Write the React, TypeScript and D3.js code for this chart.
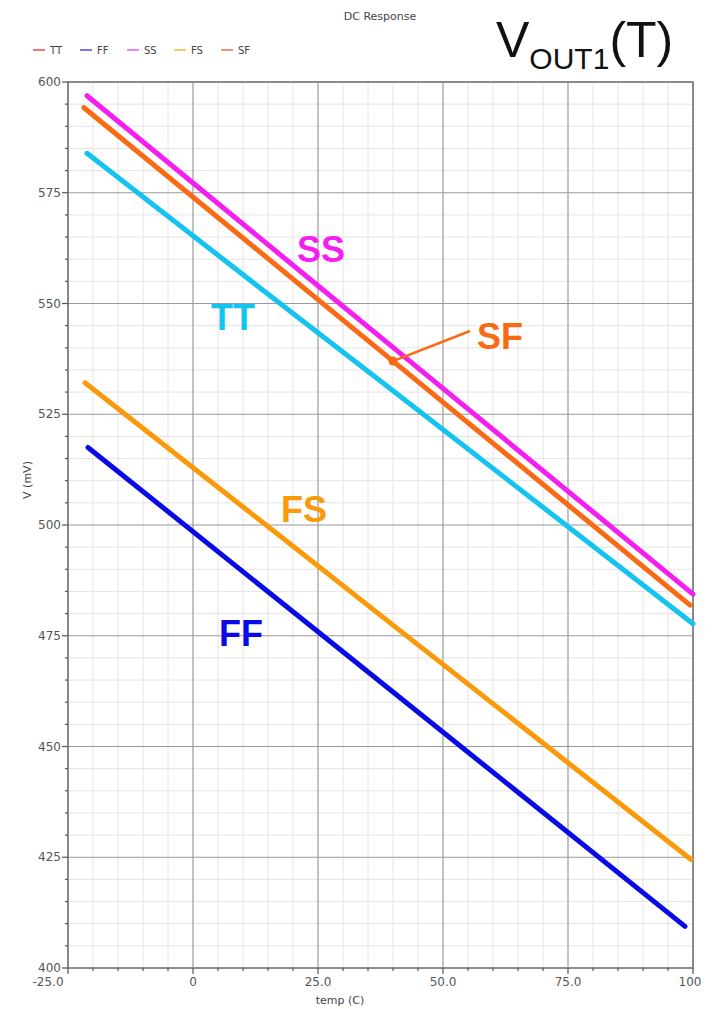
import * as d3 from "d3";

// [temp (C), V (mV)]
const ttPoints: [number, number][] = [[-21.2, 583.9], [14, 553.0], [40, 530.3], [100, 477.7]];
const ffPoints: [number, number][] = [[-21.0, 517.5], [24, 476.8], [40, 462.3], [98.4, 409.4]];
const ssPoints: [number, number][] = [[-21.2, 596.9], [25, 554.0], [40, 540.1], [100, 484.4]];
const fsPoints: [number, number][] = [[-21.6, 532.1], [16.4, 498.4], [40, 477.4], [99.6, 424.5]];
const sfPoints: [number, number][] = [[-21.8, 594.2], [40, 537.0], [99.4, 481.9]];

const legendNames = ["TT", "FF", "SS", "FS", "SF"];
const legendColors = ["#e84a4a", "#4a4aef", "#f05ef0", "#f2b84a", "#e8704a"];

const xTicks = [-25, 0, 25, 50, 75, 100];
const xTickLabels = ["-25.0", "0", "25.0", "50.0", "75.0", "100"];
const yTicks = [400, 425, 450, 475, 500, 525, 550, 575, 600];

const series = [
  { name: "FF", pts: ffPoints, color: "#0a0ae6" },
  { name: "FS", pts: fsPoints, color: "#fa9a0a" },
  { name: "TT", pts: ttPoints, color: "#14c3f0" },
  { name: "SF", pts: sfPoints, color: "#fa6a14" },
  { name: "SS", pts: ssPoints, color: "#f51ef0" },
];

export default function App() {
  const W = 713, H = 1009;
  const left = 68, right = 693, top = 82, bottom = 968;

  const x = d3.scaleLinear().domain([-25, 100]).range([left, right]);
  const y = d3.scaleLinear().domain([400, 600]).range([bottom, top]);
  const line = d3.line<[number, number]>().x(d => x(d[0])).y(d => y(d[1]));

  const xMinor = d3.range(-25, 100.1, 5).filter(v => !xTicks.includes(v));
  const yMinor = d3.range(400, 600.1, 5).filter(v => !yTicks.includes(v));

  const sfDot: [number, number] = [40, 537.0];

  return (
    <svg width={W} height={H} style={{ position: "absolute", left: 0, top: 0, background: "#fff" }}
      fontFamily="'DejaVu Sans', sans-serif">
      <rect width={W} height={H} fill="#fff" />
      <text x={380} y={20} textAnchor="middle" fontSize={11} fill="#444">DC Response</text>

      {/* legend */}
      {legendNames.map((n, i) => {
        const lx = 33 + i * 47;
        return (
          <g key={n}>
            <line x1={lx} x2={lx + 12} y1={50} y2={50} stroke={legendColors[i]} strokeWidth={1.5} />
            <text x={lx + 17} y={54} fontSize={10} fill="#444">{n}</text>
          </g>
        );
      })}

      {/* big title */}
      <text x={496} y={57} fontFamily="'Liberation Sans', Arial, sans-serif" fontSize={50} fill="#111">
        V<tspan fontSize={30} dy={12}>OUT1</tspan><tspan dy={-12}>(T)</tspan>
      </text>

      {/* grid */}
      {xMinor.map(v => <line key={"xm" + v} x1={x(v)} x2={x(v)} y1={top} y2={bottom} stroke="#e4e4e4" strokeWidth={1} />)}
      {yMinor.map(v => <line key={"ym" + v} x1={left} x2={right} y1={y(v)} y2={y(v)} stroke="#e4e4e4" strokeWidth={1} />)}
      {xTicks.map(v => <line key={"xM" + v} x1={x(v)} x2={x(v)} y1={top} y2={bottom} stroke="#9a9a9a" strokeWidth={1.2} />)}
      {yTicks.map(v => <line key={"yM" + v} x1={left} x2={right} y1={y(v)} y2={y(v)} stroke="#9a9a9a" strokeWidth={1.2} />)}
      <rect x={left} y={top} width={right - left} height={bottom - top} fill="none" stroke="#777" strokeWidth={1.5} />

      {/* axes ticks */}
      {yTicks.map(v => (
        <g key={"yt" + v}>
          <line x1={left - 6} x2={left} y1={y(v)} y2={y(v)} stroke="#555" strokeWidth={1.2} />
          <text x={left - 7} y={y(v) + 4} textAnchor="end" fontSize={12} fill="#555">{v}</text>
        </g>
      ))}
      {yMinor.map(v => <line key={"ymt" + v} x1={left - 3} x2={left} y1={y(v)} y2={y(v)} stroke="#555" strokeWidth={1.2} />)}
      {xTicks.map((v, i) => (
        <g key={"xt" + v}>
          <line x1={x(v)} x2={x(v)} y1={bottom} y2={bottom + 6} stroke="#555" strokeWidth={1.2} />
          <text x={x(v) - (i === 0 ? 20 : 0) - (i === 5 ? 3 : 0)} y={bottom + 18} textAnchor="middle" fontSize={12} fill="#555">{xTickLabels[i]}</text>
        </g>
      ))}
      {xMinor.map(v => <line key={"xmt" + v} x1={x(v)} x2={x(v)} y1={bottom} y2={bottom + 3} stroke="#555" strokeWidth={1.2} />)}

      <text x={340} y={1004} textAnchor="middle" fontSize={11} fill="#444">temp (C)</text>
      <text transform="translate(31,480) rotate(-90)" textAnchor="middle" fontSize={11} fill="#444">V (mV)</text>

      {/* curves */}
      {series.map(s => (
        <path key={s.name} d={line(s.pts) ?? ""} fill="none" stroke={s.color} strokeWidth={5} strokeLinecap="round" />
      ))}

      {/* SF callout */}
      <line x1={x(sfDot[0])} y1={y(sfDot[1])} x2={470} y2={331} stroke="#fa6a14" strokeWidth={2.5} />
      <circle cx={x(sfDot[0])} cy={y(sfDot[1])} r={4.5} fill="#fa6a14" />

      <g fontFamily="'Liberation Sans', Arial, sans-serif" fontWeight="bold" fontSize={36}>
        <text x={297} y={262} fill="#f51ef0">SS</text>
        <text x={211} y={330} fill="#14c3f0">TT</text>
        <text x={477} y={349} fill="#fa6a14">SF</text>
        <text x={281} y={522} fill="#fa9a0a">FS</text>
        <text x={219} y={646} fill="#0a0ae6">FF</text>
      </g>
    </svg>
  );
}
